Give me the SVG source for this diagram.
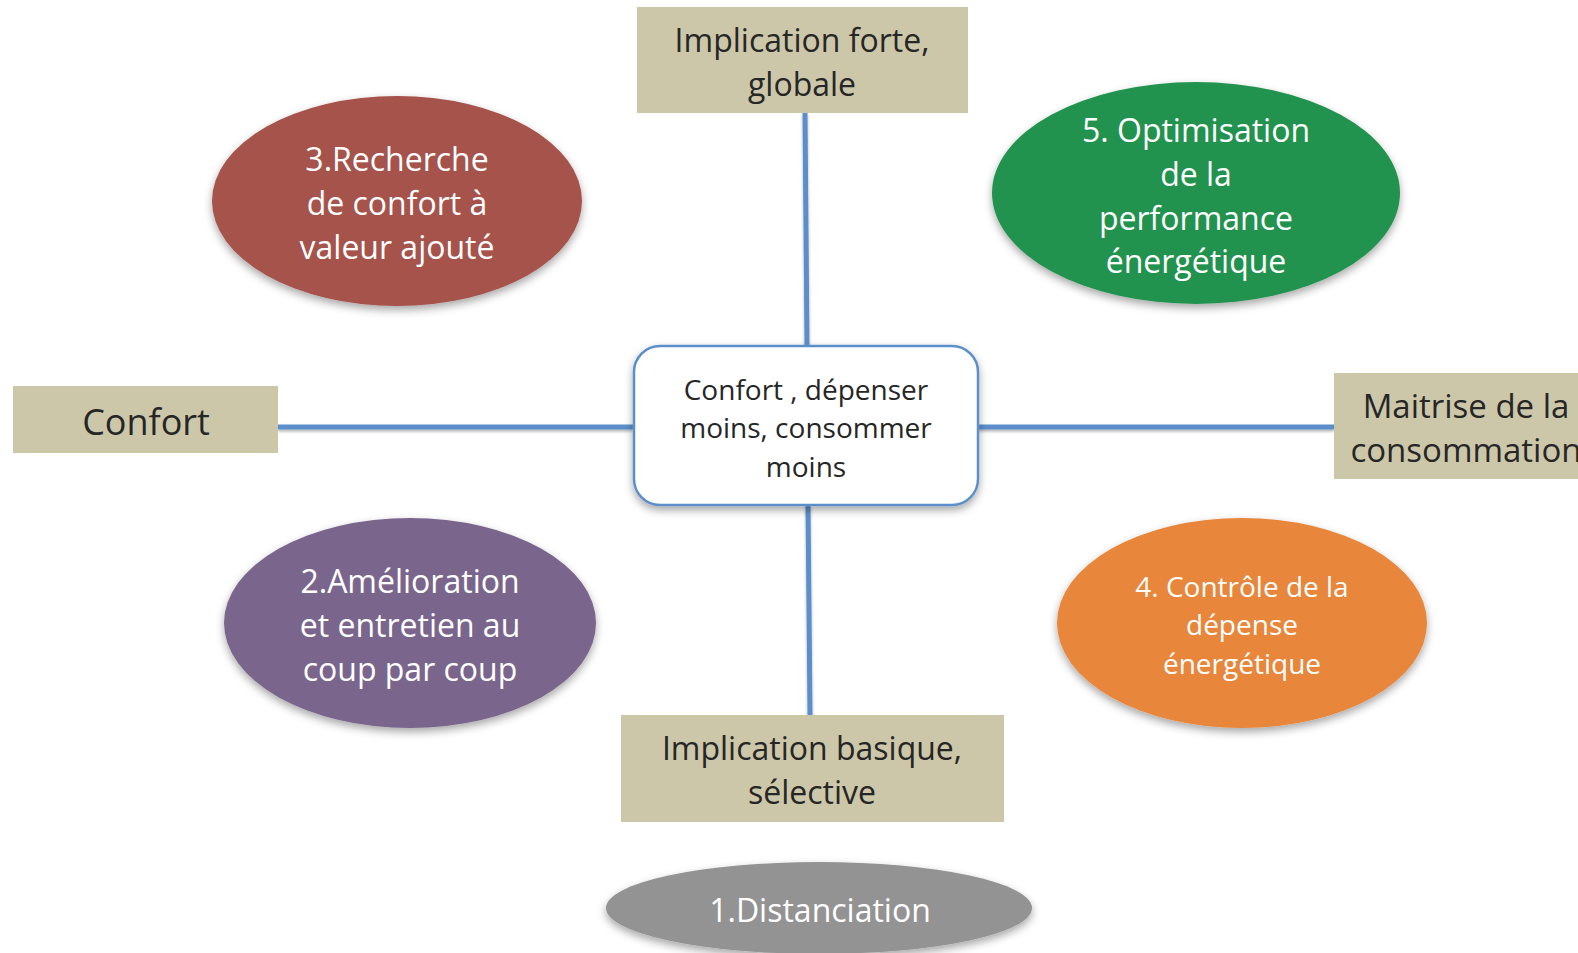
<svg xmlns="http://www.w3.org/2000/svg" width="1578" height="953" viewBox="0 0 1578 953">
<defs>
<style>
.lbl{font-family:"Open Sans","Noto Sans","Liberation Sans",sans-serif;text-anchor:middle;}
.box{fill:#cdc7a9;}
.dark{fill:#262626;}
.wt{fill:#ffffff;}
.conn{stroke:#5b8fca;stroke-width:5;fill:none;}
</style>
<filter id="sh" x="-20%" y="-20%" width="140%" height="150%">
<feDropShadow dx="0" dy="4" stdDeviation="4" flood-color="#000" flood-opacity="0.35"/>
</filter>
<filter id="lsh" x="-5%" y="-50%" width="110%" height="300%">
<feDropShadow dx="0" dy="2" stdDeviation="1.5" flood-color="#000" flood-opacity="0.3"/>
</filter>
</defs>
<rect width="1578" height="953" fill="#ffffff"/>
<g id="connectors" filter="url(#lsh)">
<line class="conn" x1="805" y1="113" x2="807" y2="345"/>
<line class="conn" x1="808" y1="505" x2="810" y2="715"/>
<line class="conn" x1="278" y1="427" x2="633" y2="427"/>
<line class="conn" x1="978" y1="427" x2="1334" y2="427"/>
</g>
<g id="node-top">
<rect class="box" x="637" y="7" width="331" height="106"/>
<text class="lbl dark" font-size="32" x="802" y="52">Implication forte,</text>
<text class="lbl dark" font-size="32" x="802" y="96">globale</text>
</g>
<g id="node-bottom">
<rect class="box" x="621" y="715" width="383" height="107"/>
<text class="lbl dark" font-size="32" x="812" y="760">Implication basique,</text>
<text class="lbl dark" font-size="32" x="812" y="804">sélective</text>
</g>
<g id="node-left">
<rect class="box" x="13" y="386" width="265" height="67"/>
<text class="lbl dark" font-size="36" x="146" y="435">Confort</text>
</g>
<g id="node-right">
<rect class="box" x="1334" y="373" width="260" height="106"/>
<text class="lbl dark" font-size="33" x="1466" y="418">Maitrise de la</text>
<text class="lbl dark" font-size="33" x="1466" y="462">consommation</text>
</g>
<g id="node-center">
<rect x="634" y="346" width="344" height="159" rx="26" ry="26" fill="#ffffff" stroke="#5b8fca" stroke-width="2.5" filter="url(#sh)"/>
<text class="lbl dark" font-size="28" x="806" y="400">Confort , dépenser</text>
<text class="lbl dark" font-size="28" x="806" y="438">moins, consommer</text>
<text class="lbl dark" font-size="28" x="806" y="477">moins</text>
</g>
<g id="node-3">
<ellipse cx="397" cy="201" rx="185" ry="105" fill="#a5524c" filter="url(#sh)"/>
<text class="lbl wt" font-size="32" x="397" y="171">3.Recherche</text>
<text class="lbl wt" font-size="32" x="397" y="215">de confort à</text>
<text class="lbl wt" font-size="32" x="397" y="259">valeur ajouté</text>
</g>
<g id="node-5">
<ellipse cx="1196" cy="193" rx="204" ry="111" fill="#23924f" filter="url(#sh)"/>
<text class="lbl wt" font-size="32" x="1196" y="142">5. Optimisation</text>
<text class="lbl wt" font-size="32" x="1196" y="186">de la</text>
<text class="lbl wt" font-size="32" x="1196" y="230">performance</text>
<text class="lbl wt" font-size="32" x="1196" y="273">énergétique</text>
</g>
<g id="node-2">
<ellipse cx="410" cy="623" rx="186" ry="105" fill="#7a668c" filter="url(#sh)"/>
<text class="lbl wt" font-size="32" x="410" y="593">2.Amélioration</text>
<text class="lbl wt" font-size="32" x="410" y="637">et entretien au</text>
<text class="lbl wt" font-size="32" x="410" y="681">coup par coup</text>
</g>
<g id="node-4">
<ellipse cx="1242" cy="623" rx="185" ry="105" fill="#e8863a" filter="url(#sh)"/>
<text class="lbl wt" font-size="28" x="1242" y="597">4. Contrôle de la</text>
<text class="lbl wt" font-size="28" x="1242" y="635">dépense</text>
<text class="lbl wt" font-size="28" x="1242" y="674">énergétique</text>
</g>
<g id="node-1">
<ellipse cx="819" cy="908" rx="213" ry="46" fill="#939393" filter="url(#sh)"/>
<text class="lbl wt" font-size="32" x="820" y="922">1.Distanciation</text>
</g>
</svg>
